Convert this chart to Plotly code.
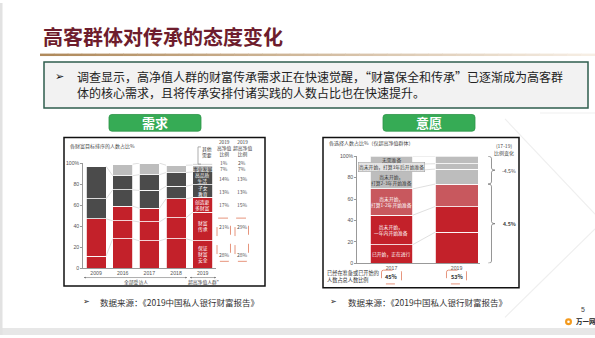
import numpy as np
import plotly.graph_objects as go

W, H = 595, 338
CJK = "Noto Sans CJK SC"


def px(x):
    return x / W


def py(y):
    return 1 - y / H


# ---------------- left chart: wealth goals ----------------
years_l = ["2009", "2016", "2017", "2018", "2019"]
goal_names = ["保证财富安全", "财富传承", "创造更多财富", "子女教育", "高品质生活", "事业发展", "其他需要"]
goal_labels = ["保证<br>财富<br>安全", "财富<br>传承", "创造更<br>多财富", "子女<br>教育", "高品质<br>生活", "事业发展", ""]
# shares for 2009, 2016, 2017, 2018 (all respondents)
safety_hist = [11.5, 28, 26, 28]
inherit_hist = [35.5, 17, 18, 20]
create_hist = [0, 14, 13, 18]
edu_hist = [19, 15.5, 17, 12]
life_hist = [31, 13.5, 15, 13]
career_hist = [0, 11, 11, 7]
other_hist = [0, 0, 0, 0]
# 2019 shares by segment
hnw_2019 = [28, 21, 17, 13, 14, 7, 1]    # 高净值比例
uhnw_2019 = [28, 29, 15, 13, 13, 7, 2]   # 超高净值比例
goal_colors = ["#c3212a", "#c3212a", "#c3212a", "#4b4b4b", "#4b4b4b", "#bdbdbd", "#d9d9d9"]

# ---------------- right chart: inheritance planning ----------------
years_r = ["2017", "2019"]
plan_names = ["已开始，正在进行", "尚未开始，<br>一年内开始准备", "尚未开始，<br>打算1-2年开始准备",
              "尚未开始，<br>打算2-3年开始准备", "尚未开始，打算3年后开始准备", "无需准备"]
started = [17.5, 29]
within1 = [27.5, 24]
one_two = [24.5, 21]
two_three = [17, 14]
after3 = [6, 5]
no_need = [7.5, 7]
plan_colors = ["#c3212a", "#c3212a", "#c8585e", "#bdbdbd", "#bdbdbd", "#bdbdbd"]
plan_text_colors = ["white", "white", "white", "#333333", "#333333", "#333333"]

hist = [safety_hist, inherit_hist, create_hist, edu_hist, life_hist, career_hist, other_hist]
uh = np.array(uhnw_2019, dtype=float)
share_2019 = uh / uh.sum() * 100
left_vals = np.array([h + [share_2019[k]] for k, h in enumerate(hist)])  # goals x years
right_vals = np.array([started, within1, one_two, two_three, after3, no_need], dtype=float)

fig = go.Figure()

BW_L = 0.75
for k, name in enumerate(goal_names):
    fig.add_trace(go.Bar(
        x=list(range(len(years_l))), y=left_vals[k], name=name, width=BW_L,
        marker=dict(color=goal_colors[k], line=dict(color="white", width=0.8)),
        xaxis="x", yaxis="y", hoverinfo="skip"))

BW_R = 0.66
for k, name in enumerate(plan_names):
    fig.add_trace(go.Bar(
        x=list(range(len(years_r))), y=right_vals[k], name=name, width=BW_R,
        marker=dict(color=plan_colors[k], line=dict(color="white", width=0.8)),
        xaxis="x2", yaxis="y2", hoverinfo="skip"))


def connectors(vals, bw, xa, ya):
    cum = np.cumsum(vals, axis=0)
    xs, ys = [], []
    n = vals.shape[1]
    for i in range(n - 1):
        for k in range(vals.shape[0]):
            if vals[k, i] > 0 and vals[k, i + 1] > 0:
                xs += [i + bw / 2, i + 1 - bw / 2, None]
                ys += [cum[k, i], cum[k, i + 1], None]
    fig.add_trace(go.Scatter(x=xs, y=ys, mode="lines", xaxis=xa, yaxis=ya,
                             line=dict(color="#c9c9c9", width=0.6), hoverinfo="skip"))


connectors(left_vals, BW_L, "x", "y")
connectors(right_vals, BW_R, "x2", "y2")

shapes = []
ann = []


def rrect(x0, y0, x1, y1, r):
    pts = [("M", x0 + r, y0), ("L", x1 - r, y0), ("Q", x1, y0, x1, y0 + r), ("L", x1, y1 - r),
           ("Q", x1, y1, x1 - r, y1), ("L", x0 + r, y1), ("Q", x0, y1, x0, y1 - r),
           ("L", x0, y0 + r), ("Q", x0, y0, x0 + r, y0)]
    s = ""
    for p in pts:
        c = p[0]
        coords = p[1:]
        s += c + " " + " ".join(f"{px(coords[j]):.5f},{py(coords[j + 1]):.5f}" for j in range(0, len(coords), 2)) + " "
    return s + "Z"


def text(x, y, t, size, color="#333333", xanchor="center", bold=False, family=CJK, xref="paper", yref="paper", yanchor="middle", **kw):
    ann.append(dict(x=x, y=y, xref=xref, yref=yref, text=f"<b>{t}</b>" if bold else t, showarrow=False,
                    xanchor=xanchor, yanchor=yanchor, font=dict(size=size, color=color, family=family), **kw))


# slide frame
shapes.append(dict(type="rect", xref="paper", yref="paper", x0=0, x1=1, y0=0, y1=py(331),
                   fillcolor="#e7e7e7", line=dict(width=0), layer="below"))
shapes.append(dict(type="rect", xref="paper", yref="paper", x0=0, x1=px(2.5), y0=0, y1=1,
                   fillcolor="#e2e2e2", line=dict(width=0), layer="below"))
# faint background ornament
for (a, b, c, d) in [(505, 118, 595, 215), (505, 320, 595, 230), (540, 112, 595, 112)]:
    shapes.append(dict(type="line", xref="paper", yref="paper", x0=px(a), y0=py(b), x1=px(c), y1=py(d),
                       line=dict(color="#efefef", width=1.2), layer="below"))

# title and gradient underline
text(px(41), py(34.5), "高客群体对传承的态度变化", 20, "#6e1d2d", xanchor="left", bold=True)
c0 = np.array([176, 138, 92])
c1 = np.array([246, 238, 228])
nseg = 40
for i in range(nseg):
    t = i / (nseg - 1)
    col = (c0 * (1 - t) + c1 * t).astype(int)
    xa = 40 + (595 - 40) * i / nseg
    xb = 40 + (595 - 40) * (i + 1) / nseg
    shapes.append(dict(type="rect", xref="paper", yref="paper", x0=px(xa), x1=px(xb) + 0.001,
                       y0=py(54), y1=py(51.5), fillcolor=f"rgb({col[0]},{col[1]},{col[2]})", line=dict(width=0)))

# summary box
shapes.append(dict(type="rect", xref="paper", yref="paper", x0=px(44), x1=px(588), y0=py(107), y1=py(60),
                   fillcolor="#f2f2f2", line=dict(color="#2f5e4e", width=1.5)))
text(px(53), py(75), "➢", 11, "#111111", xanchor="left", family="DejaVu Sans")
text(px(75), py(82.5),
     "调查显示，高净值人群的财富传承需求正在快速觉醒，“财富保全和传承”已逐渐成为高客群<br>"
     "体的核心需求，且将传承安排付诸实践的人数占比也在快速提升。",
     12, "#222222", xanchor="left", align="left")

# green tabs
for (x0, x1, label) in [(109, 201, "需求"), (383, 475, "意愿")]:
    shapes.append(dict(type="path", xref="paper", yref="paper", path=rrect(x0, 113.5, x1, 130.5, 3),
                       fillcolor="#36ab55", line=dict(color="#2c9447", width=0.8)))
    text(px((x0 + x1) / 2), py(122), label, 13, "white", bold=True)

# chart frames
shapes.append(dict(type="rect", xref="paper", yref="paper", x0=px(64), x1=px(265), y0=py(288), y1=py(137),
                   line=dict(color="#111111", width=1.5)))
shapes.append(dict(type="rect", xref="paper", yref="paper", x0=px(323), x1=px(519), y0=py(290), y1=py(137),
                   line=dict(color="#111111", width=1.5)))

# ---- left chart annotations ----
text(px(68), py(146), "各财富目标排序的人数占比%", 5, "#444444", xanchor="left")
cum19 = np.cumsum(left_vals[:, -1])
mid19 = cum19 - left_vals[:, -1] / 2
for k, lab in enumerate(goal_labels):
    if lab:
        col = "#333333" if k == 5 else "white"
        text(4, mid19[k], lab, 4.8, col, xref="x", yref="y")
text(px(207), py(152), "其他<br>需要", 4.8, "#333333")
shapes.append(dict(type="path", xref="paper", yref="paper",
                   path=f"M {px(201)},{py(146.5)} L {px(198)},{py(146.5)} L {px(198)},{py(164)} L {px(201)},{py(164)}",
                   line=dict(color="#777777", width=0.6)))
text(px(224), py(148), "2019<br>高净值<br>比例", 4.8, "#444444")
text(px(242), py(148), "2019<br>超高净值<br>比例", 4.8, "#444444")
for k in range(len(goal_names)):
    if k < 6:
        yv, yr = mid19[k], "y"
    else:
        yv, yr = py(162.3), "paper"
    text(px(224), yv, f"{hnw_2019[k]}%", 5, "#555555", xref="paper", yref=yr)
    text(px(242), yv, f"{uhnw_2019[k]}%", 5, "#555555", xref="paper", yref=yr)
for (x0, x1) in [(217, 230.5), (235, 248.5)]:
    shapes.append(dict(type="path", xref="paper", yref="paper", path=rrect(x0, 219, x1, 263, 2),
                       line=dict(color="#e07a5c", width=0.8, dash="dash")))

# group arrows under left axis
for (a, b, lab) in [(84, 187, "全部受访人"), (190, 216, "超高净值人群*")]:
    shapes.append(dict(type="line", xref="paper", yref="paper", x0=px(a), x1=px(b), y0=py(279.5), y1=py(279.5),
                       line=dict(color="#777777", width=0.6)))
    for (xe, dx) in [(a, 3), (b, -3)]:
        ann.append(dict(x=px(xe), y=py(279.5), xref="paper", yref="paper", text="", showarrow=True,
                        ax=dx, ay=0, arrowhead=2, arrowsize=0.6, arrowwidth=0.6, arrowcolor="#777777"))
    text(px((a + b) / 2), py(284.5), lab, 4.8, "#444444")

# ---- right chart annotations ----
text(px(327), py(143), "各选择人数占比%（仅超高净值群体）", 5, "#444444", xanchor="left")
cumr = np.cumsum(right_vals[:, 0])
midr = cumr - right_vals[:, 0] / 2
for k, lab in enumerate(plan_names):
    extra = {}
    if k == 4:
        extra = dict(bgcolor="#e4e4e4", bordercolor="#999999", borderwidth=0.5, borderpad=0.5)
    text(0, midr[k], lab, 4.8, plan_text_colors[k], xref="x2", yref="y2", **extra)

ready = right_vals[0] + right_vals[1]
text(px(325), py(278.5), "已经在准备或已开始的<br>人数占总人数比例", 5.2, "#333333", xanchor="left", align="left")
for i in range(len(years_r)):
    xc = 391.5 + 65 * i
    shapes.append(dict(type="path", xref="paper", yref="paper", path=rrect(xc - 10, 272, xc + 10, 286, 2),
                       line=dict(color="#e07a5c", width=0.8, dash="dash")))
    text(i, py(279), f"{ready[i]:.0f}%", 5.5, "#333333", bold=True, xref="x2")

red_tot = right_vals[:3].sum(axis=0)
gray_tot = right_vals[3:].sum(axis=0)
text(px(504), py(149), "(17-19)<br>比例变化", 5, "#444444")


def brace(ya, yb, xa=488, xm=491.5, xt=495, d=2.0):
    mid = (ya + yb) / 2
    X = lambda v: f"{px(v):.5f}"
    return (f"M {X(xa)},{ya} Q {X(xm)},{ya} {X(xm)},{ya + d} L {X(xm)},{mid - d} "
            f"Q {X(xm)},{mid} {X(xt)},{mid} Q {X(xm)},{mid} {X(xm)},{mid + d} "
            f"L {X(xm)},{yb - d} Q {X(xm)},{yb} {X(xa)},{yb}")


top_r = right_vals[:, 1].sum()
shapes.append(dict(type="path", xref="paper", yref="y2", path=brace(red_tot[1], top_r),
                   line=dict(color="#666666", width=0.7)))
shapes.append(dict(type="path", xref="paper", yref="y2", path=brace(0, red_tot[1]),
                   line=dict(color="#666666", width=0.7)))
text(px(509), (red_tot[1] + top_r) / 2, f"{gray_tot[1] - gray_tot[0]:.1f}%", 5.2, "#444444", yref="y2")
text(px(509), red_tot[1] / 2, f"{red_tot[1] - red_tot[0]:.1f}%", 5.2, "#444444", yref="y2", bold=True)

# sources, page number, logo
for (xa, xt) in [(81, 98), (328, 346)]:
    text(px(xa), py(304), "➢", 8, "#222222", xanchor="left", family="DejaVu Sans")
    text(px(xt), py(304), "数据来源：《2019中国私人银行财富报告》", 8.5, "#333333", xanchor="left")
text(px(583), py(312), "5", 7, "#444444", family="Liberation Sans")
shapes.append(dict(type="circle", xref="paper", yref="paper", x0=px(565), x1=px(572), y0=py(328), y1=py(321),
                   fillcolor="#f39a1e", line=dict(width=0)))
shapes.append(dict(type="circle", xref="paper", yref="paper", x0=px(567.2), x1=px(569.8), y0=py(325.8), y1=py(323.2),
                   fillcolor="white", line=dict(width=0)))
text(px(573.5), py(324), "万一网", 6.5, "#222222", xanchor="left", bold=True)

axis_font = dict(size=5.2, color="#555555", family="Liberation Sans")
fig.update_layout(
    width=W, height=H, autosize=False, margin=dict(l=0, r=0, t=0, b=0),
    paper_bgcolor="white", plot_bgcolor="rgba(0,0,0,0)", showlegend=False, barmode="stack",
    xaxis=dict(domain=[px(83), px(216)], range=[-0.49, 4.5], tickvals=list(range(len(years_l))),
               ticktext=years_l, tickfont=axis_font, showline=True, linecolor="#999999", linewidth=0.6,
               ticks="", showgrid=False, zeroline=False, fixedrange=True),
    yaxis=dict(domain=[py(270), py(163)], range=[0, 100], tickvals=[0, 20, 40, 60, 80, 100],
               ticktext=["0", "20", "40", "60", "80", "100%"], tickfont=axis_font, showline=True,
               linecolor="#999999", linewidth=0.6, ticks="outside", ticklen=2, tickcolor="#999999",
               tickwidth=0.6, showgrid=False, zeroline=False),
    xaxis2=dict(domain=[px(357), px(480)], range=[-0.53, 1.36], tickvals=list(range(len(years_r))),
                ticktext=years_r, tickfont=axis_font, showline=True, linecolor="#999999", linewidth=0.6,
                ticks="", showgrid=False, zeroline=False, anchor="y2"),
    yaxis2=dict(domain=[py(265), py(156)], range=[0, 100], tickvals=[0, 20, 40, 60, 80, 100],
                ticktext=["0", "20", "40", "60", "80", "100%"], tickfont=axis_font, showline=True,
                linecolor="#999999", linewidth=0.6, ticks="outside", ticklen=2, tickcolor="#999999",
                tickwidth=0.6, showgrid=False, zeroline=False, anchor="x2"),
    shapes=shapes, annotations=ann,
)

fig.write_html("out.html")
